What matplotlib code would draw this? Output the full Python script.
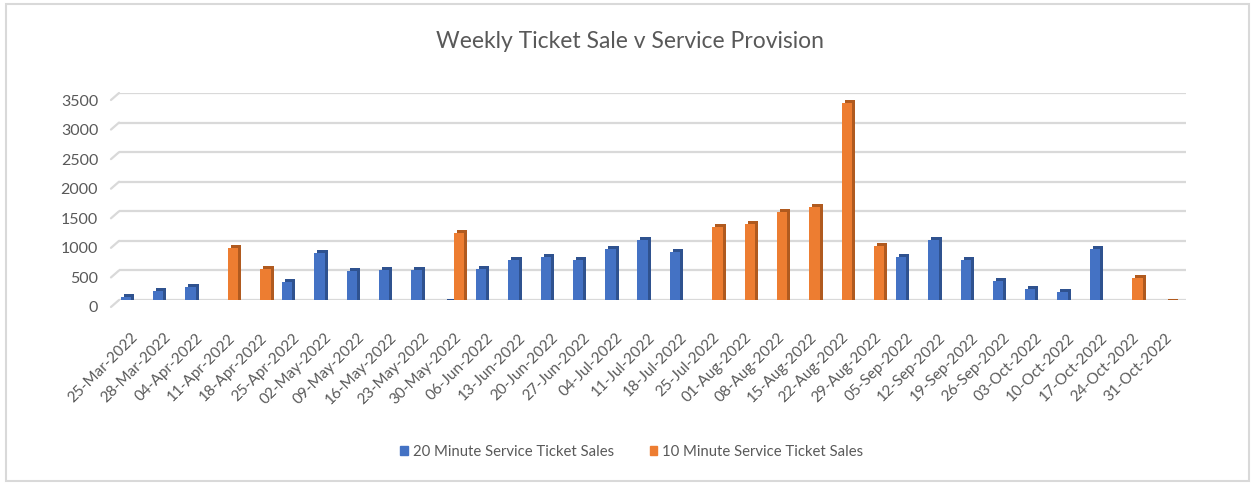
import matplotlib
matplotlib.use("Agg")
import matplotlib.pyplot as plt
import matplotlib.transforms as mtransforms
from matplotlib.patches import Rectangle
import numpy as np

plt.rcParams['font.family'] = ['Lato', 'DejaVu Sans']

weeks = ["25-Mar-2022", "28-Mar-2022", "04-Apr-2022", "11-Apr-2022", "18-Apr-2022",
         "25-Apr-2022", "02-May-2022", "09-May-2022", "16-May-2022", "23-May-2022",
         "30-May-2022", "06-Jun-2022", "13-Jun-2022", "20-Jun-2022", "27-Jun-2022",
         "04-Jul-2022", "11-Jul-2022", "18-Jul-2022", "25-Jul-2022", "01-Aug-2022",
         "08-Aug-2022", "15-Aug-2022", "22-Aug-2022", "29-Aug-2022", "05-Sep-2022",
         "12-Sep-2022", "19-Sep-2022", "26-Sep-2022", "03-Oct-2022", "10-Oct-2022",
         "17-Oct-2022", "24-Oct-2022", "31-Oct-2022"]

sales_20min = [100, 200, 270, 0, 0, 360, 840, 540, 550, 550,
               10, 580, 720, 770, 730, 920, 1070, 870, 0, 0,
               0, 0, 0, 0, 770, 1070, 730, 370, 230, 190,
               910, 0, 0]
sales_10min = [0, 0, 0, 930, 580, 0, 0, 0, 0, 0,
               1180, 0, 0, 0, 0, 0, 0, 0, 1290, 1340,
               1540, 1620, 3390, 960, 0, 0, 0, 0, 0, 0,
               0, 430, 10]

yticks = [0, 500, 1000, 1500, 2000, 2500, 3000, 3500]

W, H = 1257, 483
fig = plt.figure(figsize=(W / 100, H / 100), dpi=100)
ax = fig.add_axes([119 / W, 1 - 300 / H, (1186 - 119) / W, (300 - 93) / H])

grey = "#595959"
blue, blue_dark = "#4472C4", "#2F528F"
orange, orange_dark = "#ED7D31", "#B05A1F"

x = np.arange(len(weeks))
w = 0.32

def px(dx, dy):
    return mtransforms.ScaledTranslation(dx / 100, dy / 100, fig.dpi_scale_trans)

for vals, off, c, cd in [(sales_20min, -w / 2, blue, blue_dark),
                         (sales_10min, w / 2, orange, orange_dark)]:
    vals = np.array(vals)
    idx = vals > 0
    # fake 3D depth: darker copy pushed up and right behind the face
    back = ax.bar(x[idx] + off, vals[idx], width=w, color=cd, zorder=2)
    for p in back.patches:
        p.set_transform(ax.transData + px(3, 0))
    front = ax.bar(x[idx] + off, vals[idx], width=w, color=c, zorder=3)
    for p in front.patches:
        p.set_transform(ax.transData + px(0, -3))

ax.set_xlim(-0.37, 32.66)
ax.set_ylim(0, 3500)
ax.set_yticks(yticks)
ax.set_xticks(x)
ax.tick_params(axis="x", length=0, pad=22)
ax.tick_params(axis="y", length=0, pad=15, labelsize=11.5, labelcolor=grey)
ax.set_xticklabels(weeks, rotation=45, ha="right", rotation_mode="anchor",
                   fontsize=11, color=grey)
for lab in ax.get_yticklabels():
    lab.set_transform(lab.get_transform() + px(0, -7))

ax.grid(axis="y", color="#d9d9d9", linewidth=1.6, zorder=0)
ax.set_axisbelow(True)
for s in ax.spines.values():
    s.set_visible(False)

# short slanted floor edges at the left of each gridline
for v in yticks:
    ax.annotate("", xy=(-0.37, v), xytext=(-8, -7), textcoords="offset pixels",
                arrowprops=dict(arrowstyle="-", color="#d9d9d9", lw=1.6,
                                shrinkA=0, shrinkB=0), annotation_clip=False)

fig.text(630 / W, 1 - 42 / H, "Weekly Ticket Sale v Service Provision",
         ha="center", va="center", fontsize=16.5, color=grey)

handles = [plt.Rectangle((0, 0), 1, 1, color=blue), plt.Rectangle((0, 0), 1, 1, color=orange)]
fig.legend(handles, ["20 Minute Service Ticket Sales", "10 Minute Service Ticket Sales"],
           loc="center", bbox_to_anchor=(632 / W, 1 - 452 / H), ncol=2, frameon=False,
           fontsize=10.7, labelcolor=grey, handlelength=0.5, handleheight=0.5,
           handletextpad=0.35, columnspacing=2.4)

fig.patches.append(Rectangle((6 / W, 2 / H), (1249 - 6) / W, (479 - 2) / H,
                             transform=fig.transFigure, fill=False,
                             edgecolor="#d9d9d9", linewidth=1.5))

fig.savefig("out.png", dpi=100)
